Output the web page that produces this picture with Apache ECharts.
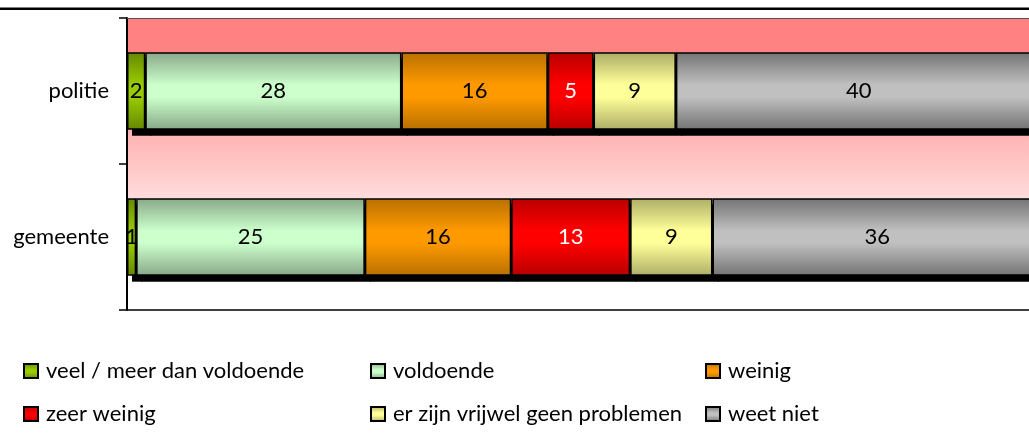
<!DOCTYPE html>
<html>
<head>
<meta charset="utf-8">
<script src="https://cdn.jsdelivr.net/npm/echarts@6/dist/echarts.min.js"></script>
<style>
  html, body { margin: 0; padding: 0; background: #fff; }
  #chart { width: 1029px; height: 443px; }
</style>
</head>
<body>
<div id="chart"></div>
<script>
  // categories (top to bottom)
  var categories = ['politie', 'gemeente'];

  // series names
  var seriesNames = [
    'veel / meer dan voldoende',
    'voldoende',
    'weinig',
    'zeer weinig',
    'er zijn vrijwel geen problemen',
    'weet niet'
  ];

  // values per series: [politie, gemeente]
  var veel = [2, 1];
  var voldoende = [28, 25];
  var weinig = [16, 16];
  var zeerWeinig = [5, 13];
  var geenProblemen = [9, 9];
  var weetNiet = [40, 36];

  var values = [veel, voldoende, weinig, zeerWeinig, geenProblemen, weetNiet];

  // [edge, middle] colours of each bar gradient
  var shades = [
    ['#668800', '#99CC00'],
    ['#88A888', '#CCFFCC'],
    ['#B87000', '#FF9900'],
    ['#B80000', '#FF0000'],
    ['#ADAD68', '#FFFF99'],
    ['#737373', '#C0C0C0']
  ];
  var labelColors = ['#000', '#000', '#000', '#fff', '#000', '#000'];

  function grad(c) {
    return new echarts.graphic.LinearGradient(0, 0, 0, 1, [
      { offset: 0, color: c[0] },
      { offset: 0.42, color: c[1] },
      { offset: 0.58, color: c[1] },
      { offset: 1, color: c[0] }
    ]);
  }

  var font = 'Lato, "Open Sans", sans-serif';

  // segments [category, start, end] for the drop shadow
  var shadowData = [];
  for (var c = 0; c < categories.length; c++) {
    var acc = 0;
    for (var i = 0; i < values.length; i++) {
      shadowData.push([c, acc, acc + values[i][c]]);
      acc += values[i][c];
    }
  }

  var series = [{
    // black drop shadow, in a second grid shifted right and down
    type: 'custom',
    xAxisIndex: 2,
    yAxisIndex: 1,
    silent: true,
    clip: false,
    encode: { x: [1, 2], y: 0 },
    data: shadowData,
    renderItem: function (params, api) {
      var s = api.coord([api.value(1), api.value(0)]);
      var e = api.coord([api.value(2), api.value(0)]);
      var h = api.size([0, 1])[1] * 0.53;
      return {
        type: 'rect',
        shape: { x: s[0], y: s[1] - h / 2, width: e[0] - s[0] + 1, height: h },
        style: { fill: '#000' }
      };
    }
  }];
  for (var i = 0; i < seriesNames.length; i++) {
    series.push({
      name: seriesNames[i],
      type: 'bar',
      stack: 'total',
      barWidth: '53%',
      clip: false,
      data: values[i],
      itemStyle: {
        color: grad(shades[i]),
        borderColor: '#000',
        borderWidth: 1.5
      },
      label: {
        show: true,
        position: 'inside',
        color: labelColors[i],
        fontFamily: font,
        fontSize: 22
      }
    });
  }

  function legendCol(left, names) {
    return {
      orient: 'vertical',
      left: left,
      top: 360,
      padding: 0,
      itemGap: 21,
      itemWidth: 14,
      itemHeight: 14,
      icon: 'rect',
      data: names,
      selectedMode: false,
      itemStyle: {
        borderColor: '#000',
        borderWidth: 2
      },
      textStyle: { fontFamily: font, fontSize: 22, color: '#000', padding: [0, 0, 0, 3] }
    };
  }

  var hidden = { show: false };

  var chart = echarts.init(document.getElementById('chart'), null, { renderer: 'canvas' });
  chart.setOption({
    animation: false,
    backgroundColor: '#fff',
    graphic: [{
      type: 'rect',
      shape: { x: 0, y: 7.5, width: 1029, height: 2.5 },
      style: { fill: '#000' }
    }],
    grid: [{
      left: 127,
      top: 18,
      right: 0,
      bottom: 133,
      show: true,
      borderWidth: 0,
      backgroundColor: new echarts.graphic.LinearGradient(0, 0, 0, 1, [
        { offset: 0, color: '#FF8080' },
        { offset: 0.12, color: '#FF8282' },
        { offset: 0.4, color: '#FFB3B3' },
        { offset: 0.62, color: '#FFDCDC' },
        { offset: 0.9, color: '#FFFFFF' },
        { offset: 1, color: '#FFFFFF' }
      ])
    }, {
      left: 132,
      top: 24,
      right: 0,
      bottom: 127
    }],
    legend: [
      legendCol(23, [seriesNames[0], seriesNames[3]]),
      legendCol(370, [seriesNames[1], seriesNames[4]]),
      legendCol(705, [seriesNames[2], seriesNames[5]])
    ],
    // the chart is cut off on the right: 100% lies just past the picture edge
    xAxis: [{
      type: 'value',
      min: 0,
      max: 98.6,
      axisLabel: hidden,
      axisTick: hidden,
      splitLine: hidden,
      axisLine: { show: true, lineStyle: { color: '#000', width: 1.5 } }
    }, {
      type: 'value',
      position: 'top',
      min: 0,
      max: 98.6,
      axisLabel: hidden,
      axisTick: hidden,
      splitLine: hidden,
      axisLine: { show: true, lineStyle: { color: '#555', width: 1 } }
    }, {
      type: 'value',
      gridIndex: 1,
      min: 0,
      max: 98.0,
      show: false
    }],
    yAxis: [{
      type: 'category',
      inverse: true,
      data: categories,
      axisLine: { show: true, lineStyle: { color: '#000', width: 2 } },
      axisTick: { show: true, length: 8, lineStyle: { color: '#000', width: 1.5 } },
      axisLabel: { margin: 18, color: '#000', fontFamily: font, fontSize: 22 }
    }, {
      type: 'category',
      gridIndex: 1,
      inverse: true,
      data: categories,
      show: false
    }],
    series: series
  });
</script>
</body>
</html>
